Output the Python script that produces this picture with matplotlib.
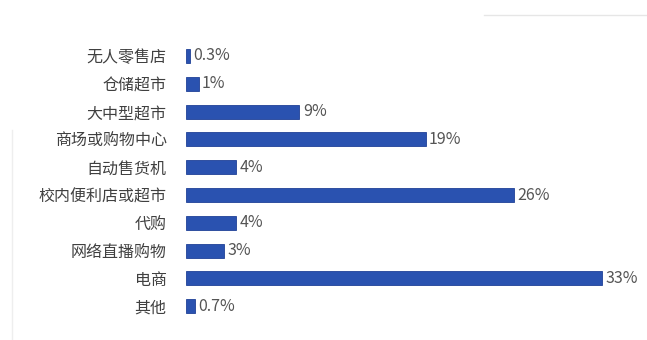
import matplotlib.pyplot as plt
import numpy as np

plt.rcParams['font.family'] = ['Noto Sans CJK SC', 'DejaVu Sans']

channels = ['无人零售店', '仓储超市', '大中型超市', '商场或购物中心', '自动售货机',
            '校内便利店或超市', '代购', '网络直播购物', '电商', '其他']
shares = [0.3, 1, 9, 19, 4, 26, 4, 3, 33, 0.7]
share_labels = ['0.3%', '1%', '9%', '19%', '4%', '26%', '4%', '3%', '33%', '0.7%']

W, H = 647, 340
fig = plt.figure(figsize=(W / 100, H / 100), dpi=100)
fig.patch.set_facecolor('white')

# axes placed in pixels: bars start at x=186, rows 56..306 px from the top
left, right = 186, 647
top, bottom = 39.3, 322.9
ax = fig.add_axes([left / W, 1 - bottom / H, (right - left) / W, (bottom - top) / H])

ypos = np.arange(len(channels))
ax.barh(ypos, shares, height=0.5, color='#2a52b0', edgecolor='#1f4197', linewidth=0.6)

ax.set_ylim(len(channels) - 0.4, -0.6)
ax.set_xlim(0, 33 * (right - left) / (602 - left))

ax.set_yticks(ypos)
ax.set_yticklabels(channels, fontsize=11.5, color='#404040')
ax.tick_params(axis='y', length=0, pad=14)
ax.set_xticks([])
for s in ax.spines.values():
    s.set_visible(False)

for y, v, lab in zip(ypos, shares, share_labels):
    ax.annotate(lab, (v, y), xytext=(2.5, 0), textcoords='offset points',
                va='center', ha='left', fontsize=11.5, color='#555555')

# faint frame lines at the edges
fig.add_artist(plt.Line2D([484 / W, 1], [1 - 15 / H] * 2, color='#e6e6e6', lw=1))
fig.add_artist(plt.Line2D([12 / W] * 2, [1 - 130 / H, 0], color='#eeeeee', lw=1))

fig.savefig('out.png', dpi=100)
